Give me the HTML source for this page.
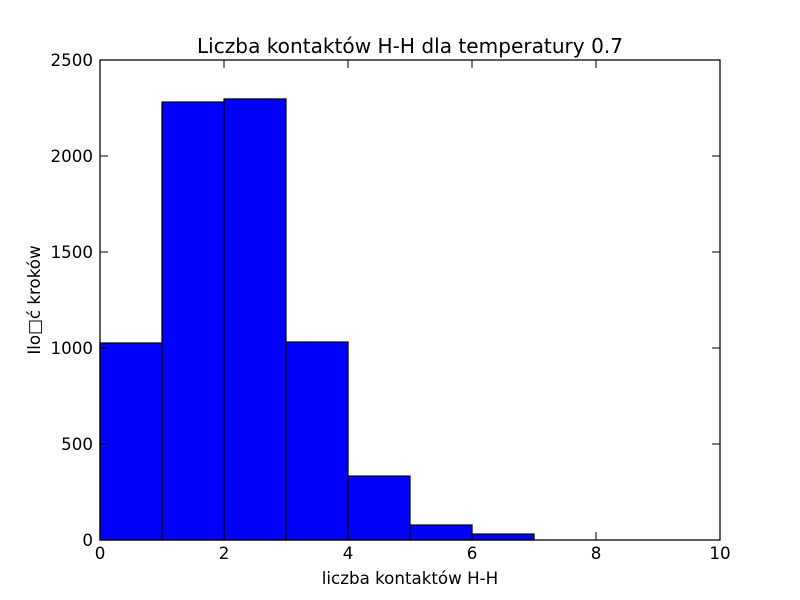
<!DOCTYPE html>
<html><head><meta charset="utf-8"><style>body{margin:0;background:#fff}svg{display:block}</style></head>
<body>
<svg id="chart" width="800" height="600" xmlns="http://www.w3.org/2000/svg" font-family="'DejaVu Sans','Liberation Sans',sans-serif">
<rect width="800" height="600" fill="#fff"/>
<g id="bars"></g>
<g id="ticks"></g>
<rect x="100" y="60" width="620" height="480" fill="none" stroke="#000" stroke-width="1.25"/>
<text x="410" y="53" font-size="20.1" text-anchor="middle">Liczba kontaktów H-H dla temperatury 0.7</text>
<text x="410" y="584" font-size="16.7" text-anchor="middle">liczba kontaktów H-H</text>
<text transform="translate(40,300) rotate(-90)" font-size="16.7" text-anchor="middle">Ilo□ć kroków</text>
</svg>
<script>
const binEdges = [0,1,2,3,4,5,6,7];
const counts = [1026,2281,2297,1031,333,78,31];
const xTicks = [0,2,4,6,8,10];
const yTicks = [0,500,1000,1500,2000,2500];
const NS="http://www.w3.org/2000/svg";
const X=v=>100+v*62, Y=v=>540-v*0.192;
const bars=document.getElementById('bars'), ticks=document.getElementById('ticks');
counts.forEach((c,i)=>{
  const r=document.createElementNS(NS,'rect');
  r.setAttribute('x',X(binEdges[i]));r.setAttribute('y',Y(c));
  r.setAttribute('width',X(binEdges[i+1])-X(binEdges[i]));r.setAttribute('height',540-Y(c));
  r.setAttribute('fill','#0000ff');r.setAttribute('stroke','#000');r.setAttribute('stroke-width','1.25');
  
  
  bars.appendChild(r);
});
function line(x1,y1,x2,y2){const l=document.createElementNS(NS,'line');l.setAttribute('x1',x1);l.setAttribute('y1',y1);l.setAttribute('x2',x2);l.setAttribute('y2',y2);l.setAttribute('stroke','#000');ticks.appendChild(l);return l;}
function txt(x,y,s,a){const t=document.createElementNS(NS,'text');t.setAttribute('x',x);t.setAttribute('y',y);t.setAttribute('font-size','16.7');t.setAttribute('text-anchor',a);t.textContent=s;ticks.appendChild(t);return t;}
xTicks.forEach(v=>{
  const x=X(v);
  const a=line(x,540,x,532);
  
  
  line(x,60,x,68);
  const t=txt(x,559,String(v),'middle');
  
  
});
yTicks.forEach(v=>{
  const y=Y(v);
  const a=line(100,y,108,y);
  
  
  line(720,y,712,y);
  const t=txt(93,y+6,String(v),'end');
  
  
});
</script>
</body></html>
